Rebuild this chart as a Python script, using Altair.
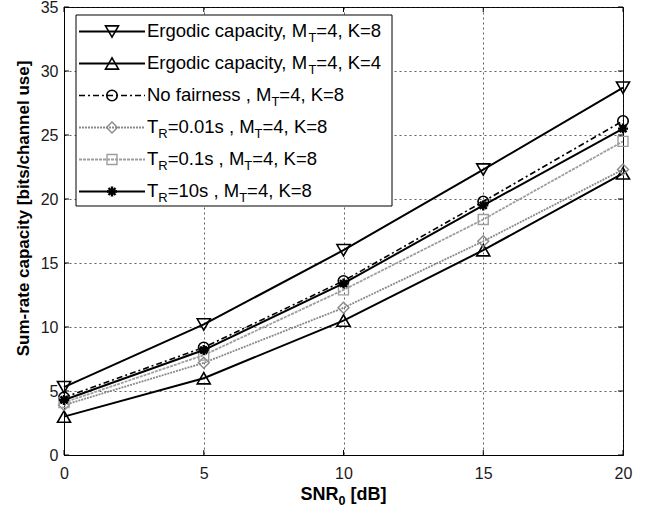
import altair as alt
import pandas as pd

# ---------------- data ----------------
snr = [0, 5, 10, 15, 20]
erg_k8 = [5.3, 10.2, 16.0, 22.3, 28.7]
erg_k4 = [3.0, 6.0, 10.5, 16.0, 22.0]
no_fair = [4.5, 8.4, 13.6, 19.8, 26.1]
tr_001 = [3.9, 7.2, 11.5, 16.7, 22.3]
tr_01 = [4.1, 7.8, 12.9, 18.4, 24.5]
tr_10 = [4.3, 8.2, 13.4, 19.5, 25.5]
series_values = [erg_k8, erg_k4, no_fair, tr_001, tr_01, tr_10]

# legend labels as (text, is_subscript) segments
legend_labels = [
    [("Ergodic capacity, M", 0), ("T", 1), ("=4, K=8", 0)],
    [("Ergodic capacity, M", 0), ("T", 1), ("=4, K=4", 0)],
    [("No fairness , M", 0), ("T", 1), ("=4, K=8", 0)],
    [("T", 0), ("R", 1), ("=0.01s , M", 0), ("T", 1), ("=4, K=8", 0)],
    [("T", 0), ("R", 1), ("=0.1s , M", 0), ("T", 1), ("=4, K=8", 0)],
    [("T", 0), ("R", 1), ("=10s , M", 0), ("T", 1), ("=4, K=8", 0)],
]
x_title = [("SNR", 0), ("0", 1), (" [dB]", 0)]
y_title = "Sum-rate capacity [bits/channel use]"
x_ticks = [0, 5, 10, 15, 20]
y_ticks = [0, 5, 10, 15, 20, 25, 30, 35]

# ---------------- styles ----------------
FONT = "Liberation Sans"
W, H = 559, 448
STAR = "M-1,0L1,0M0,-1L0,1M-0.7,-0.7L0.7,0.7M-0.7,0.7L0.7,-0.7"
styles = [
    dict(color="black", width=2.0, dash=None, shape="triangle-down", size=170, sw=1.6),
    dict(color="black", width=2.0, dash=None, shape="triangle-up", size=170, sw=1.6),
    dict(color="black", width=1.6, dash=[6, 3, 2, 3], shape="circle", size=110, sw=1.6),
    dict(color="#8a8a8a", width=1.8, dash=[2, 1], shape="diamond", size=120, sw=1.4),
    dict(color="#9e9e9e", width=1.8, dash=[3, 1], shape="square", size=100, sw=1.4),
    dict(color="black", width=2.0, dash=None, shape=STAR, size=100, sw=2.4),
]

REG = {" ": 278, ",": 278, ".": 278, "=": 584, "E": 667, "r": 333, "g": 556, "o": 556,
       "d": 556, "i": 222, "c": 500, "a": 556, "p": 556, "t": 278, "y": 500, "M": 833,
       "T": 611, "K": 667, "N": 722, "f": 278, "n": 556, "e": 556, "s": 500, "R": 722,
       "S": 667, "[": 278, "]": 278, "B": 667}
BOLD = {" ": 278, "S": 667, "N": 722, "R": 722, "[": 333, "]": 333, "d": 611, "B": 722}


def tw(s, size, bold=False):
    tab = BOLD if bold else REG
    return sum(tab.get(ch, 556) for ch in s) * size / 1000.0


dummy = pd.DataFrame({"a": [0]})
xs = alt.Scale(domain=[0, 20], nice=False, zero=False)
ys = alt.Scale(domain=[0, 35], nice=False, zero=False)

axis_common = dict(
    grid=True, gridColor="#222", gridDash=[2, 3], gridWidth=0.8, gridOpacity=0.9,
    domainColor="black", domainWidth=1, ticks=False, tickSize=0,
    labelFont=FONT, labelFontSize=16, labelColor="#1a1a1a", labelFlush=False,
    labelOverlap=False,
)
x_axis = alt.Axis(values=x_ticks, title="", labelPadding=10, **axis_common)
y_axis = alt.Axis(values=y_ticks, title=y_title, labelPadding=6,
                  titleFont=FONT, titleFontSize=17, titleFontWeight="bold",
                  titleColor="black", titleAngle=270, titleX=-36, titleY=201,
                  titleAlign="center", titleBaseline="alphabetic", **axis_common)


def X(field):
    return alt.X(field, scale=xs, axis=x_axis)


def Y(field):
    return alt.Y(field, scale=ys, axis=y_axis)


layers = []

# data series
for vals, st in zip(series_values, styles):
    df = pd.DataFrame({"snr": snr, "val": vals})
    lkw = dict(color=st["color"], strokeWidth=st["width"])
    if st["dash"]:
        lkw["strokeDash"] = st["dash"]
    layers.append(alt.Chart(df).mark_line(**lkw).encode(x=X("snr:Q"), y=Y("val:Q")))
    layers.append(alt.Chart(df).mark_point(
        shape=st["shape"], size=st["size"], color=st["color"], filled=False,
        strokeWidth=st["sw"], opacity=1).encode(x=X("snr:Q"), y=Y("val:Q")))

# inward ticks on all four sides
xt = pd.DataFrame({"snr": x_ticks})
yt = pd.DataFrame({"val": y_ticks})
layers.append(alt.Chart(xt).mark_rule(color="black", strokeWidth=1).encode(
    x=X("snr:Q"), y=alt.value(H), y2=alt.value(H - 5)))
layers.append(alt.Chart(xt).mark_rule(color="black", strokeWidth=1).encode(
    x=X("snr:Q"), y=alt.value(0), y2=alt.value(5)))
layers.append(alt.Chart(yt).mark_rule(color="black", strokeWidth=1).encode(
    y=Y("val:Q"), x=alt.value(0), x2=alt.value(5)))
layers.append(alt.Chart(yt).mark_rule(color="black", strokeWidth=1).encode(
    y=Y("val:Q"), x=alt.value(W - 5), x2=alt.value(W)))

# legend box
LX0, LX1, LY0, LY1 = 12, 328, 8, 199
layers.append(alt.Chart(dummy).mark_rect(fill="white", stroke="black", strokeWidth=1).encode(
    x=alt.value(LX0), x2=alt.value(LX1), y=alt.value(LY0), y2=alt.value(LY1)))

MAIN, SUB = 18.5, 13
for i, (segs, st) in enumerate(zip(legend_labels, styles)):
    base = 30 + 32 * i
    ly = base - 5.5
    rkw = dict(color=st["color"], strokeWidth=st["width"])
    if st["dash"]:
        rkw["strokeDash"] = st["dash"]
    layers.append(alt.Chart(dummy).mark_rule(**rkw).encode(
        x=alt.value(15), x2=alt.value(81), y=alt.value(ly)))
    layers.append(alt.Chart(dummy).mark_point(
        shape=st["shape"], size=st["size"], color=st["color"], filled=False,
        strokeWidth=st["sw"], opacity=1).encode(x=alt.value(48), y=alt.value(ly)))
    cx = 83.0
    for text, sub in segs:
        size = SUB if sub else MAIN
        stripped = text.lstrip(" ")
        cx += tw(text[: len(text) - len(stripped)], size)
        layers.append(alt.Chart(dummy).mark_text(
            text=stripped, font=FONT, fontSize=size, align="left", baseline="alphabetic",
            color="black").encode(x=alt.value(cx), y=alt.value(base + (5 if sub else 0))))
        cx += tw(stripped, size)

# x-axis title with subscript
TMAIN, TSUB = 18, 12.6
total = sum(tw(t, TSUB if s else TMAIN, True) for t, s in x_title)
cx = W / 2 - total / 2
tb = 493
for text, sub in x_title:
    size = TSUB if sub else TMAIN
    stripped = text.lstrip(" ")
    cx += tw(text[: len(text) - len(stripped)], size, True)
    layers.append(alt.Chart(dummy).mark_text(
        text=stripped, font=FONT, fontSize=size, fontWeight="bold", align="left",
        baseline="alphabetic", color="black").encode(
        x=alt.value(cx), y=alt.value(tb + (4.5 if sub else 0))))
    cx += tw(stripped, size, True)

chart = alt.layer(*layers).properties(
    width=W, height=H,
    autosize=alt.AutoSizeParams(type="none"),
    padding={"left": 64, "top": 7, "right": 36, "bottom": 53},
    background="white",
).configure_view(stroke="black", strokeWidth=1)

chart.save("out.html", embed_options={"renderer": "svg", "actions": False})
